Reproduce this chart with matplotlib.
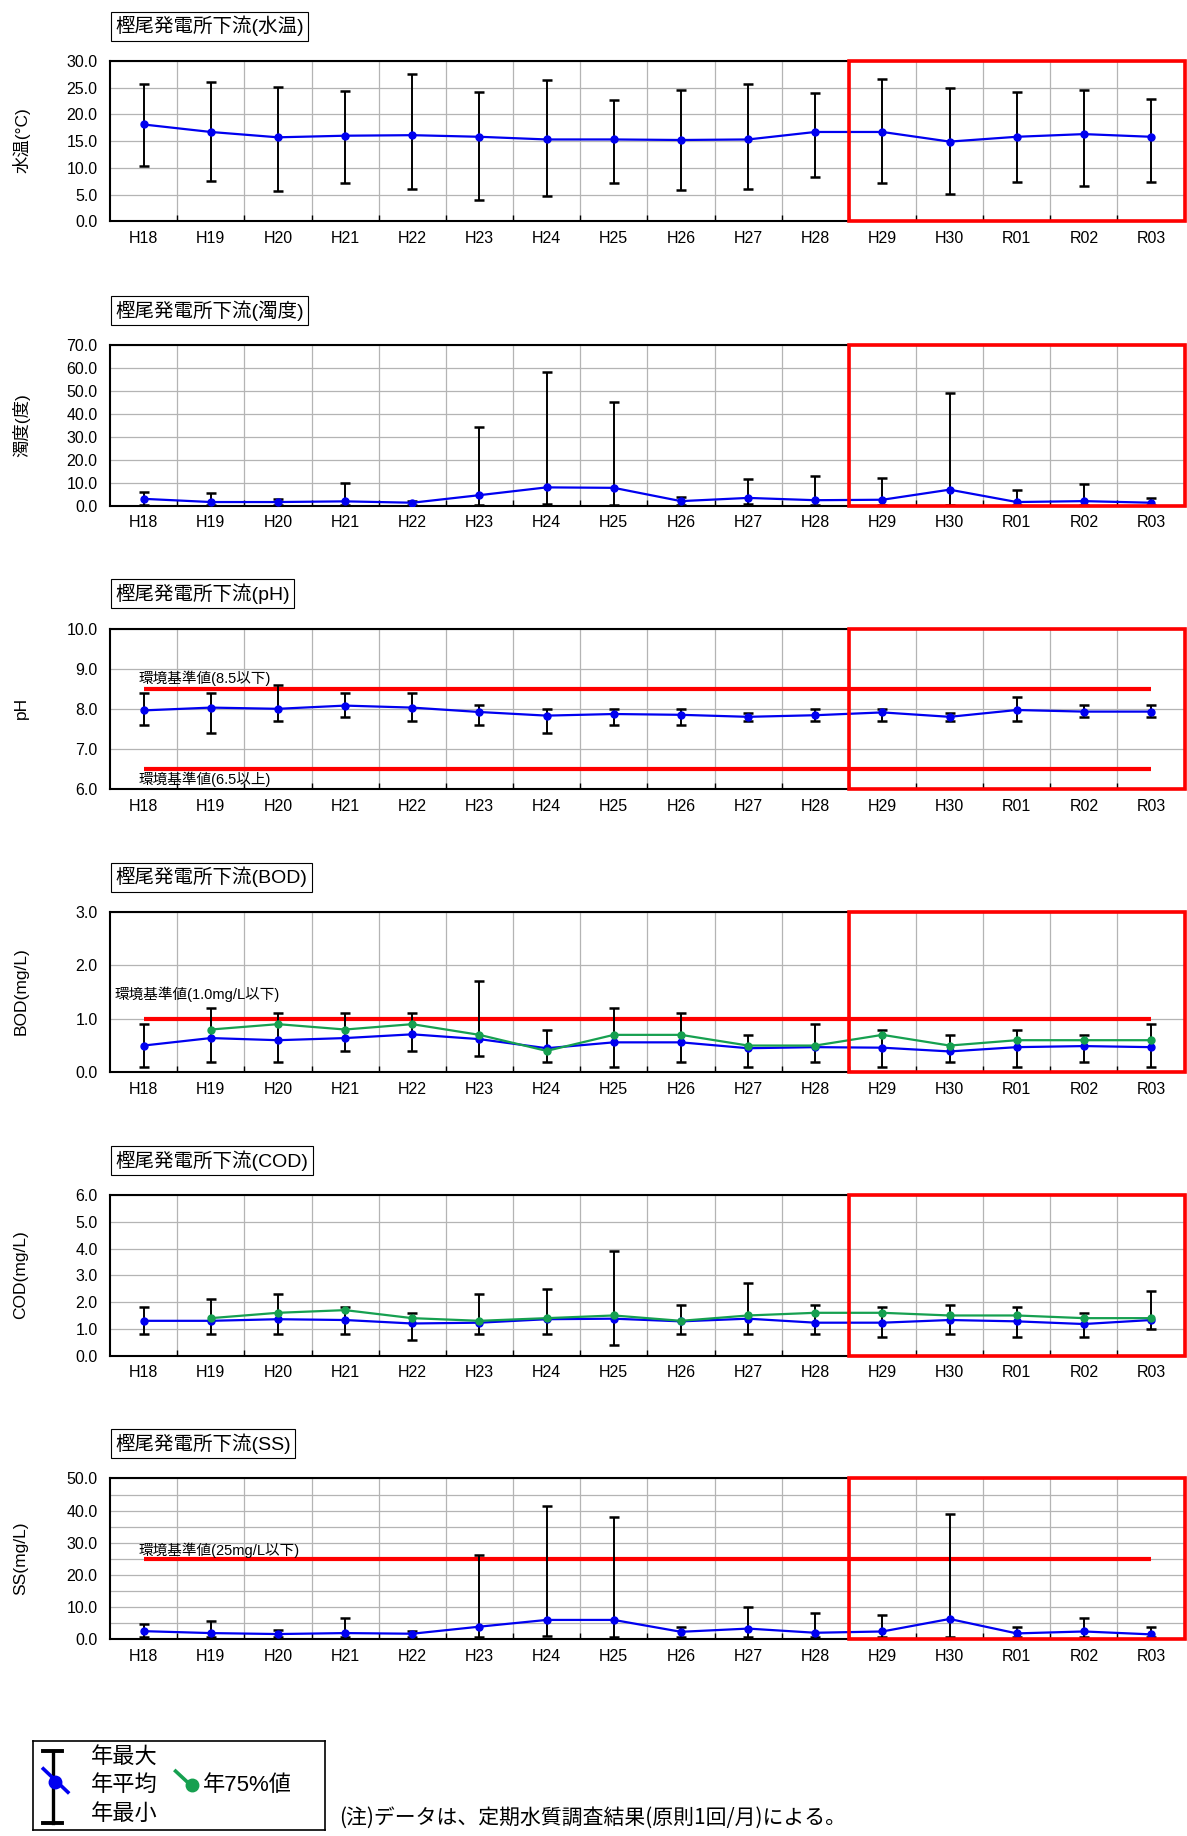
import numpy as np
import matplotlib.pyplot as plt
import matplotlib.transforms as mtransforms
from matplotlib.patches import Rectangle

plt.rcParams['font.family'] = ['Liberation Sans', 'Noto Sans CJK JP', 'DejaVu Sans']

years = ['H18', 'H19', 'H20', 'H21', 'H22', 'H23', 'H24', 'H25',
         'H26', 'H27', 'H28', 'H29', 'H30', 'R01', 'R02', 'R03']

# water temperature
temp_max = [25.6, 26.1, 25.2, 24.3, 27.6, 24.1, 26.4, 22.7, 24.6, 25.7, 24.0, 26.6, 24.9, 24.2, 24.6, 22.8]
temp_mean = [18.1, 16.7, 15.7, 16.0, 16.1, 15.8, 15.3, 15.3, 15.2, 15.3, 16.7, 16.7, 14.9, 15.8, 16.3, 15.8]
temp_min = [10.3, 7.5, 5.6, 7.1, 6.0, 4.0, 4.7, 7.1, 5.8, 6.0, 8.3, 7.1, 5.1, 7.3, 6.5, 7.3]

# turbidity
turb_max = [6.1, 5.7, 3.1, 9.9, 2.0, 34.3, 58.3, 45.2, 3.7, 11.5, 13.0, 12.0, 49.0, 6.8, 9.4, 3.4]
turb_mean = [3.0, 1.6, 1.6, 1.9, 1.3, 4.6, 8.0, 7.8, 2.0, 3.4, 2.4, 2.6, 7.0, 1.6, 2.0, 1.3]
turb_min = [0.5, 0.5, 0.5, 0.5, 0.5, 0.5, 0.8, 0.5, 0.5, 0.8, 0.5, 0.5, 0.5, 0.5, 0.5, 0.5]

# pH
ph_max = [8.4, 8.4, 8.6, 8.4, 8.4, 8.1, 8.0, 8.0, 8.0, 7.9, 8.0, 8.0, 7.9, 8.3, 8.1, 8.1]
ph_mean = [7.96, 8.03, 8.0, 8.08, 8.03, 7.92, 7.83, 7.87, 7.85, 7.80, 7.84, 7.91, 7.80, 7.97, 7.93, 7.93]
ph_min = [7.6, 7.4, 7.7, 7.8, 7.7, 7.6, 7.4, 7.6, 7.6, 7.7, 7.7, 7.7, 7.7, 7.7, 7.8, 7.8]

# BOD
bod_max = [0.9, 1.2, 1.1, 1.1, 1.1, 1.7, 0.8, 1.2, 1.1, 0.7, 0.9, 0.8, 0.7, 0.8, 0.7, 0.9]
bod_mean = [0.50, 0.64, 0.60, 0.64, 0.71, 0.62, 0.45, 0.56, 0.56, 0.45, 0.47, 0.46, 0.39, 0.47, 0.49, 0.47]
bod_p75 = [np.nan, 0.8, 0.9, 0.8, 0.9, 0.7, 0.4, 0.7, 0.7, 0.5, 0.5, 0.7, 0.5, 0.6, 0.6, 0.6]
bod_min = [0.1, 0.2, 0.2, 0.4, 0.4, 0.3, 0.2, 0.1, 0.2, 0.1, 0.2, 0.1, 0.2, 0.1, 0.2, 0.1]

# COD
cod_max = [1.8, 2.1, 2.3, 1.8, 1.6, 2.3, 2.5, 3.9, 1.9, 2.7, 1.9, 1.8, 1.9, 1.8, 1.6, 2.4]
cod_mean = [1.30, 1.30, 1.36, 1.33, 1.20, 1.23, 1.36, 1.38, 1.28, 1.38, 1.23, 1.23, 1.33, 1.28, 1.18, 1.33]
cod_p75 = [np.nan, 1.4, 1.6, 1.7, 1.4, 1.3, 1.4, 1.5, 1.3, 1.5, 1.6, 1.6, 1.5, 1.5, 1.4, 1.4]
cod_min = [0.8, 0.8, 0.8, 0.8, 0.6, 0.8, 0.8, 0.4, 0.8, 0.8, 0.8, 0.7, 0.8, 0.7, 0.7, 1.0]

# SS
ss_max = [4.6, 5.5, 2.8, 6.6, 2.5, 26.1, 41.3, 38.1, 3.6, 9.9, 8.2, 7.5, 39.0, 3.6, 6.4, 3.6]
ss_mean = [2.4, 1.8, 1.5, 1.8, 1.6, 3.8, 5.9, 5.9, 2.2, 3.2, 1.9, 2.3, 6.2, 1.7, 2.3, 1.4]
ss_min = [0.5, 0.5, 0.5, 0.5, 0.5, 0.5, 1.0, 0.5, 0.5, 0.5, 0.5, 0.5, 0.5, 0.5, 0.5, 0.5]

panels = [
    dict(title='樫尾発電所下流(水温)', ylabel='水温(°C)', ylim=(0, 30), step=5, minor=None,
         hi=temp_max, avg=temp_mean, lo=temp_min, p75=None, limits=[]),
    dict(title='樫尾発電所下流(濁度)', ylabel='濁度(度)', ylim=(0, 70), step=10, minor=None,
         hi=turb_max, avg=turb_mean, lo=turb_min, p75=None, limits=[]),
    dict(title='樫尾発電所下流(pH)', ylabel='pH', ylim=(6, 10), step=1, minor=None,
         hi=ph_max, avg=ph_mean, lo=ph_min, p75=None,
         limits=[(8.5, '環境基準値(8.5以下)', -0.07, 8.77), (6.5, '環境基準値(6.5以上)', -0.07, 6.23)]),
    dict(title='樫尾発電所下流(BOD)', ylabel='BOD(mg/L)', ylim=(0, 3), step=1, minor=None,
         hi=bod_max, avg=bod_mean, lo=bod_min, p75=bod_p75,
         limits=[(1.0, '環境基準値(1.0mg/L以下)', -0.43, 1.45)]),
    dict(title='樫尾発電所下流(COD)', ylabel='COD(mg/L)', ylim=(0, 6), step=1, minor=None,
         hi=cod_max, avg=cod_mean, lo=cod_min, p75=cod_p75, limits=[]),
    dict(title='樫尾発電所下流(SS)', ylabel='SS(mg/L)', ylim=(0, 50), step=10, minor=5,
         hi=ss_max, avg=ss_mean, lo=ss_min, p75=None,
         limits=[(25, '環境基準値(25mg/L以下)', -0.08, 27.6)]),
]

W, H = 1187, 1836
S = W / 1014.0  # reference measured on a 1014 px wide copy
fig = plt.figure(figsize=(W / 100, H / 100), dpi=100)

tops = [52, 295, 537, 779, 1021, 1263]
x = np.arange(len(years))
BLUE = '#0000f0'
GREEN = '#16a050'

for p, top in zip(panels, tops):
    bot = top + 137
    ax = fig.add_axes([94 * S / W, 1 - bot * S / H, (1012 - 94) * S / W, 137 * S / H])
    ax.set_xlim(-0.5, 15.5)
    ax.set_ylim(*p['ylim'])
    ax.set_yticks(np.arange(p['ylim'][0], p['ylim'][1] + 0.001, p['step']))
    ax.set_yticklabels([f'{v:.1f}' for v in ax.get_yticks()], fontsize=11.5)
    if p['minor']:
        ax.set_yticks(np.arange(p['ylim'][0], p['ylim'][1], p['minor']), minor=True)
    ax.set_xticks(x)
    ax.set_xticklabels(years, fontsize=11.5)
    ax.set_xticks(np.arange(0.5, 15.5, 1), minor=True)
    ax.tick_params(axis='y', which='both', length=0, pad=9)
    ax.tick_params(axis='x', which='major', length=0, pad=7)
    ax.tick_params(axis='x', which='minor', length=4, direction='in', width=1)
    ax.grid(axis='x', which='minor', color='#b4b4b4', lw=0.9)
    ax.grid(axis='y', which='both', color='#b4b4b4', lw=0.9)
    ax.set_axisbelow(True)
    for sp in ax.spines.values():
        sp.set_linewidth(1.5)
        sp.set_color('black')

    for val, label, tx, ty in p['limits']:
        ax.plot([0, 15], [val, val], color='#ff0000', lw=3, solid_capstyle='butt', zorder=2)
        ax.text(tx, ty, label, fontsize=10.5, ha='left', va='center', zorder=6)

    avg = np.array(p['avg'])
    ax.errorbar(x, avg, yerr=[avg - np.array(p['lo']), np.array(p['hi']) - avg], fmt='none',
                ecolor='black', elinewidth=1.4, capsize=3.8, capthick=1.8, zorder=3)
    ax.plot(x, avg, color=BLUE, lw=1.6, marker='o', ms=5, zorder=4)
    if p['p75'] is not None:
        ax.plot(x, p['p75'], color=GREEN, lw=1.6, marker='o', ms=5, zorder=4)

    trans = mtransforms.blended_transform_factory(ax.transData, ax.transAxes)
    ax.add_patch(Rectangle((10.5, 0), 5, 1, transform=trans, fill=False,
                           edgecolor='#ff0000', lw=2.6, clip_on=False, zorder=7))

    ax.annotate(p['title'], xy=(0, 1), xycoords='axes fraction', xytext=(4, 25),
                textcoords='offset points', ha='left', va='center', fontsize=14,
                bbox=dict(boxstyle='square,pad=0.22', fc='white', ec='black', lw=0.8))
    fig.text(18 * S / W, 1 - (top + 68) * S / H, p['ylabel'], rotation=90,
             ha='center', va='center', fontsize=12.5)

# legend box
lax = fig.add_axes([28 * S / W, 1 - 1563 * S / H, 250 * S / W, 76 * S / H])
lax.set_xlim(0, 250)
lax.set_ylim(76, 0)
lax.set_xticks([])
lax.set_yticks([])
for sp in lax.spines.values():
    sp.set_linewidth(1.2)
lax.plot([17, 17], [9, 70], color='black', lw=2.4)
lax.plot([9, 25], [9, 9], color='black', lw=2.8)
lax.plot([9, 25], [70, 70], color='black', lw=2.8)
lax.plot([9, 30], [24, 44], color=BLUE, lw=2.6)
lax.plot([19], [35], color=BLUE, marker='o', ms=9)
lax.plot([122, 136], [26, 39], color=GREEN, lw=2.6)
lax.plot([136], [38], color=GREEN, marker='o', ms=9)
lax.text(50, 14, '年最大', fontsize=16, va='center', ha='left')
lax.text(50, 38, '年平均', fontsize=16, va='center', ha='left')
lax.text(50, 63, '年最小', fontsize=16, va='center', ha='left')
lax.text(145, 38, '年75%値', fontsize=16, va='center', ha='left')

fig.text(290 * S / W, 1 - 1553 * S / H, '(注)データは、定期水質調査結果(原則1回/月)による。',
         fontsize=15, ha='left', va='center', family=['Noto Sans CJK JP', 'DejaVu Sans'])

fig.savefig('out.png', dpi=100)
